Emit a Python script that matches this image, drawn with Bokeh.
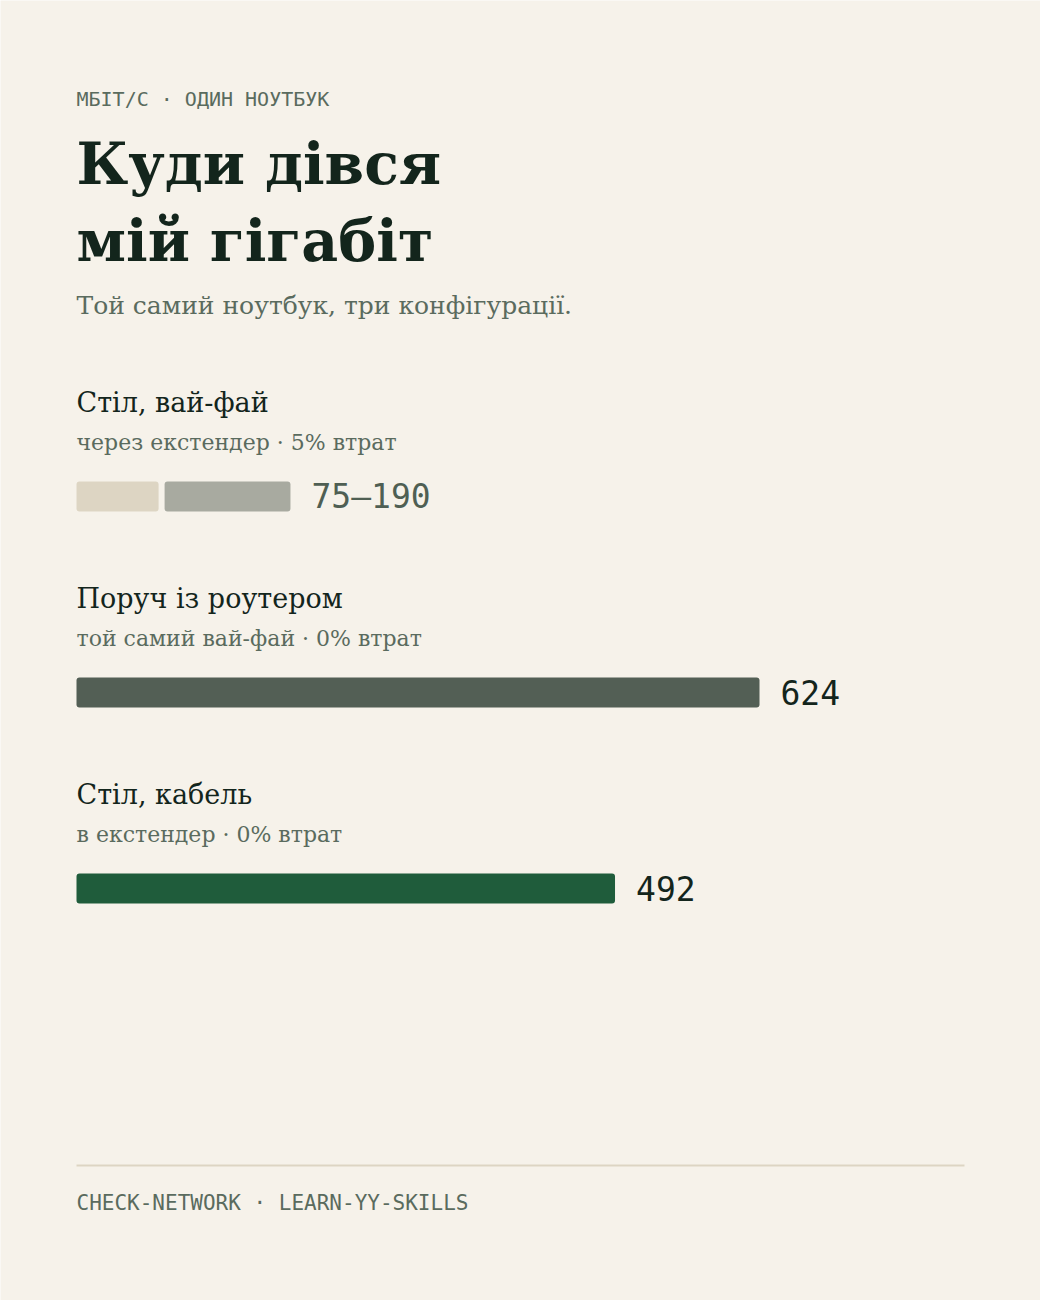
from bokeh.plotting import figure
from bokeh.models import Range1d, Label, ColumnDataSource
from bokeh.core.properties import value
from bokeh.embed import file_html
from bokeh.resources import INLINE

# ---- data ----
categories = ["Стіл, вай-фай", "Поруч із роутером", "Стіл, кабель"]
notes = ["через екстендер · 5% втрат", "той самий вай-фай · 0% втрат", "в екстендер · 0% втрат"]
low_values = [75, 624, 492]
high_values = [190, 624, 492]
value_labels = ["75–190", "624", "492"]
bar_colors = ["#A8AAA0", "#535F55", "#1F5C3B"]
value_colors = ["#4F5F53", "#13251C", "#13251C"]

kicker = "МБІТ/С · ОДИН НОУТБУК"
title_lines = ["Куди дівся", "мій гігабіт"]
subtitle = "Той самий ноутбук, три конфігурації."
footer = "CHECK-NETWORK · LEARN-YY-SKILLS"

# ---- layout ----
W, H = 1040, 1300
LEFT = 76
RIGHT = 964
BAR_MAX_PX = 683
BG = "#F6F2EA"
DARK = "#13251C"
MUTED = "#5A6B5E"
SERIF = "DejaVu Serif"
MONO = "DejaVu Sans Mono"
BASE_FIX = 0.37  # baseline correction, fraction of font size


def base(y, fs):
    return y - BASE_FIX * fs


k = BAR_MAX_PX / max(high_values)
ROW0 = 412
ROW_STEP = 196
GAP = 6 / k
FS_CAT, FS_NOTE, FS_VAL = 27, 22, 33

p = figure(width=W, height=H, output_backend="svg", toolbar_location=None,
           x_range=Range1d(-LEFT / k, (W - LEFT) / k), y_range=Range1d(H, 0),
           min_border=0, outline_line_color=None,
           background_fill_color=BG, border_fill_color=BG)
p.xaxis.visible = False
p.yaxis.visible = False
p.grid.visible = False

title_rows = [ROW0 + i * ROW_STEP for i in range(len(categories))]
note_rows = [r + 38 for r in title_rows]
bar_rows = [r + 84 for r in title_rows]

# range background segment (0 -> low) for rows with a range
rng = [i for i in range(len(categories)) if low_values[i] != high_values[i]]
p.hbar(y=[bar_rows[i] for i in rng], left=[0 for i in rng], right=[low_values[i] for i in rng],
       height=30, fill_color="#DDD5C3", line_color=None, border_radius=3)
starts = [(low_values[i] + GAP) if low_values[i] != high_values[i] else 0 for i in range(len(categories))]
ends = [(high_values[i] + GAP) if low_values[i] != high_values[i] else high_values[i] for i in range(len(categories))]
src = ColumnDataSource(dict(y=bar_rows, left=starts, right=ends, color=bar_colors,
                            vcol=value_colors, vlab=value_labels, cat=categories, note=notes,
                            ty=[base(r, FS_CAT) for r in title_rows],
                            ny=[base(r, FS_NOTE) for r in note_rows],
                            x0=[0] * len(categories)))
p.hbar(y="y", left="left", right="right", height=30, fill_color="color", line_color=None,
       border_radius=3, source=src)
p.text(x="right", y="y", text="vlab", text_color="vcol", x_offset=21, text_baseline="middle",
       text_font=value(MONO), text_font_size=f"{FS_VAL}px", source=src)
p.text(x="x0", y="ty", text="cat", text_color=DARK, text_baseline="alphabetic",
       text_font=value(SERIF), text_font_size=f"{FS_CAT}px", source=src)
p.text(x="x0", y="ny", text="note", text_color=MUTED, text_baseline="alphabetic",
       text_font=value(SERIF), text_font_size=f"{FS_NOTE}px", source=src)

p.add_layout(Label(x=LEFT, x_units="screen", y=base(106, 20), text=kicker, text_font=MONO,
                   text_font_size="20px", text_color=MUTED, text_baseline="alphabetic"))
for i, t in enumerate(title_lines):
    p.add_layout(Label(x=LEFT, x_units="screen", y=base(184 + i * 77, 57), text=t, text_font=SERIF,
                       text_font_size="57px", text_font_style="bold", text_color=DARK,
                       text_baseline="alphabetic"))
p.add_layout(Label(x=LEFT, x_units="screen", y=base(314, 25), text=subtitle, text_font=SERIF,
                   text_font_size="25px", text_color=MUTED, text_baseline="alphabetic"))

p.segment(x0=[0], y0=[1165], x1=[(RIGHT - LEFT) / k], y1=[1165], line_color="#DDD5C3", line_width=2)
p.add_layout(Label(x=LEFT, x_units="screen", y=base(1210, 21), text=footer, text_font=MONO,
                   text_font_size="21px", text_color=MUTED, text_baseline="alphabetic"))

open("out.html", "w").write(file_html(p, INLINE))
